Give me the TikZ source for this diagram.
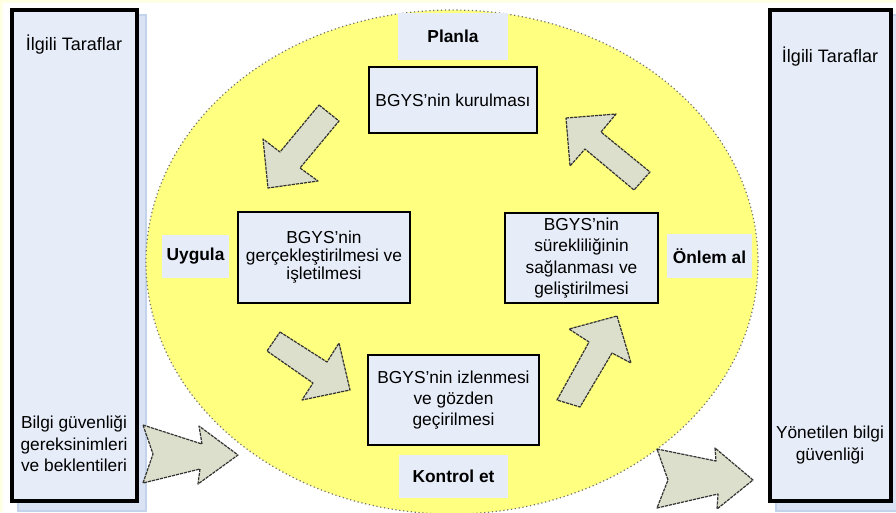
\documentclass[tikz,border=0pt]{standalone}
\usepackage{fontspec}
\setmainfont{Liberation Sans}
\definecolor{boxblue}{HTML}{E6ECF8}
\definecolor{shadowblue}{HTML}{D9E3F3}
\definecolor{shadowedge}{HTML}{C3D3EC}
\definecolor{discyellow}{HTML}{FFFF80}
\definecolor{arrowfill}{HTML}{DCDFCB}
\definecolor{paleframe}{HTML}{FFFFE4}
\begin{document}
\begin{tikzpicture}[x=0.75pt,y=-0.75pt,
  every node/.style={inner sep=0pt, align=center},
  txt/.style={font=\fontsize{13}{16}\selectfont},
  sidebox/.style={draw=black, line width=2.6pt, fill=boxblue},
  sideshadow/.style={draw=shadowedge, line width=0.8pt, fill=shadowblue},
  stagebox/.style={draw=black, line width=1.5pt, fill=boxblue, txt},
  phaselabel/.style={fill=boxblue, font=\fontsize{13}{16}\selectfont\bfseries},
  blockarrow/.style={fill=arrowfill, draw=black!80, dash pattern=on 2.4pt off 0.7pt, line width=0.9pt, line join=round},
  disc/.style={fill=discyellow, draw=black!55, dotted, line width=0.9pt}
]
% canvas with a faint frame
\fill[paleframe] (0,0) rectangle (896,512);
\fill[white] (3,3) rectangle (896,512);
\useasboundingbox (0,0) rectangle (896,512);

% side panels with their shadows
\fill[sideshadow] (18,15) rectangle (146,511);
\fill[sideshadow] (776,15) rectangle (900,511);
\node[sidebox, minimum width=93.75pt, minimum height=368.25pt] (leftpanel) at (74.5,255.5) {};
\node[sidebox, minimum width=90.75pt, minimum height=368.25pt] (rightpanel) at (830.5,255.5) {};

\node[font=\fontsize{13.5}{16}\selectfont] (lefttitle) at (74,45) {İlgili Taraflar};
\node[font=\fontsize{13.5}{16}\selectfont] (righttitle) at (830,57) {İlgili Taraflar};
\node[txt] (needs) at (74,444) {Bilgi güvenliği\\gereksinimleri\\ve beklentileri};
\node[txt] (managed) at (830,445) {Yönetilen bilgi\\güvenliği};

% the PDCA disc
\path[disc] (452,262) ellipse [x radius=306, y radius=252];

% phase labels
\node[phaselabel, minimum width=82.5pt, minimum height=35.25pt] (plan) at (453,36.5) {Planla};
\node[phaselabel, minimum width=50.25pt, minimum height=32.25pt] (do) at (195.5,256.5) {Uygula};
\node[phaselabel, minimum width=63.75pt, minimum height=33pt] (act) at (709.5,256) {Önlem al};
\node[phaselabel, minimum width=81.75pt, minimum height=32.25pt] (check) at (453.5,476.5) {Kontrol et};

% stage boxes
\node[stagebox, minimum width=126pt, minimum height=49.5pt] (establish) at (453,100) {BGYS'nin kurulması};
\node[stagebox, minimum width=129pt, minimum height=68.25pt, font=\fontsize{13}{13.5}\selectfont] (implement) at (324,257.5) {BGYS'nin\\gerçekleştirilmesi ve\\işletilmesi};
\node[stagebox, minimum width=114.75pt, minimum height=67.5pt] (maintain) at (581.5,258) {BGYS'nin\\sürekliliğinin\\sağlanması ve\\geliştirilmesi};
\node[stagebox, minimum width=128.25pt, minimum height=67.5pt] (monitor) at (453.5,400) {BGYS'nin izlenmesi\\ve gözden\\geçirilmesi};

% cycle arrows
\draw[blockarrow] (319,105) -- (339,121) -- (300,168) -- (318,181) -- (268,188) -- (263,139) -- (280,152) -- cycle;
\draw[blockarrow] (280,332) -- (327,362) -- (339,343) -- (350,390) -- (302,400) -- (313,383) -- (267,351) -- cycle;
\draw[blockarrow] (617,316) -- (631,363) -- (612,353) -- (580,407) -- (557,400) -- (589,342) -- (569,329) -- cycle;
\draw[blockarrow] (566,118) -- (616,114) -- (601,132) -- (650,172) -- (634,190) -- (585,149) -- (570,166) -- cycle;

% input and output arrows
\draw[blockarrow] (143,425) -- (202,444) -- (199,426) -- (238,455) -- (198,484) -- (200,469) -- (143,483) -- (153,454) -- cycle;
\draw[blockarrow] (657,449) -- (716,461) -- (715,448) -- (753,480) -- (717,509) -- (718,494) -- (657,508) -- (668,480) -- cycle;
\end{tikzpicture}
\end{document}
